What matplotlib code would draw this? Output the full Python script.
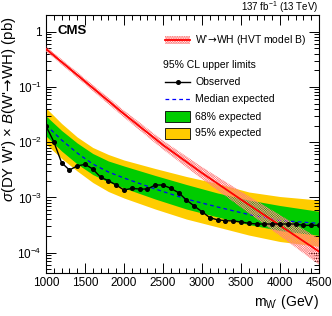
import matplotlib
matplotlib.use("Agg")
import matplotlib.pyplot as plt
from matplotlib.patches import Rectangle
from matplotlib.lines import Line2D
from matplotlib.ticker import FixedLocator, LogLocator, NullFormatter

plt.rcParams['font.family'] = ['Liberation Sans', 'DejaVu Sans']
plt.rcParams['mathtext.fontset'] = 'custom'
plt.rcParams['mathtext.rm'] = 'Liberation Sans'
plt.rcParams['mathtext.it'] = 'Liberation Sans:italic'
plt.rcParams['mathtext.bf'] = 'Liberation Sans:bold'
plt.rcParams['mathtext.sf'] = 'DejaVu Sans'
plt.rcParams['hatch.linewidth'] = 0.4

# ---- data ----
obs_mass = [1000, 1100, 1200, 1300, 1400, 1500, 1600, 1700, 1800, 1900, 2000,
            2100, 2200, 2300, 2400, 2500, 2600, 2700, 2800, 2900, 3000,
            3100, 3200, 3300, 3400, 3500, 3600, 3700, 3800, 3900, 4000,
            4100, 4200, 4300, 4400, 4500]
obs_limit = [0.0196, 0.0102, 0.00425, 0.00314, 0.00371, 0.00398, 0.00327, 0.00232,
             0.00201, 0.00168, 0.00136, 0.00146, 0.00142, 0.00142, 0.00168, 0.00168,
             0.00146, 0.00122, 0.00090, 0.00070, 0.000552, 0.000432, 0.000393,
             0.000381, 0.000375, 0.000360, 0.000341, 0.000331, 0.000331, 0.000331,
             0.000331, 0.000331, 0.000331, 0.000313, 0.000313, 0.000313]

exp_mass = [1000, 1200, 1400, 1600, 1800, 2000, 2400, 2800, 3200, 3600, 4000, 4500]
exp_median = [0.02048, 0.01096, 0.00637, 0.00403, 0.00289, 0.002249, 0.001422,
              0.000937, 0.000672, 0.000491, 0.000383, 0.00034]
exp_1s_up = [0.0298, 0.01628, 0.00967, 0.00624, 0.00457, 0.00371, 0.0025,
             0.001716, 0.001204, 0.000899, 0.000715, 0.000561]
exp_1s_dn = [0.01295, 0.00693, 0.00403, 0.0026, 0.001904, 0.001483, 0.000937,
             0.000618, 0.000443, 0.000324, 0.000252, 0.000206]
exp_2s_up = [0.04159, 0.02181, 0.01242, 0.00802, 0.00599, 0.00476, 0.00334,
             0.002394, 0.001789, 0.001256, 0.00104, 0.000899]
exp_2s_dn = [0.00928, 0.00507, 0.00301, 0.001865, 0.00128, 0.000977, 0.000618,
             0.000407, 0.000292, 0.000209, 0.0001595, 0.0001305]

th_mass = [1000, 1500, 2000, 2500, 3000, 3500, 4000, 4500]
th_xsec = [0.486, 0.1255, 0.0324, 0.0089, 0.00277, 0.000918, 0.000311, 0.0001051]
th_up = [0.540, 0.1422, 0.0375, 0.01073, 0.003557, 0.001281, 0.000482, 0.0001807]
th_dn = [0.438, 0.1108, 0.0280, 0.00738, 0.002157, 0.000658, 0.000201, 0.0000611]

x_ticks = [1000, 1500, 2000, 2500, 3000, 3500, 4000, 4500]

# ---- figure ----
W, H = 332, 316
fig = plt.figure(figsize=(W / 100, H / 100), dpi=100)
ax = fig.add_axes([46 / W, 1 - 273 / H, (319 - 46) / W, (273 - 15) / H])

GREEN = '#00cc00'
YELLOW = '#ffcc00'
RED = '#ff0000'
HATCH = '#ff8080'
HPAT = 'x' * 14
ARROW = r"$\!\mathsf{\rightarrow}\!$"

ax.fill_between(exp_mass, exp_2s_dn, exp_2s_up, color=YELLOW, lw=0, zorder=1)
ax.fill_between(exp_mass, exp_1s_dn, exp_1s_up, color=GREEN, lw=0, zorder=2)
ax.plot(exp_mass, exp_median, color='#0000ff', ls=(0, (3, 2.5)), lw=0.9, zorder=3)
ax.fill_between(th_mass, th_dn, th_up, facecolor='none', edgecolor=HATCH,
                hatch=HPAT, lw=0, zorder=4)
ax.plot(th_mass, th_xsec, color=RED, lw=1.3, zorder=5)
ax.plot(obs_mass, obs_limit, color='black', lw=1.0, marker='o', ms=2.6, zorder=6)

ax.set_yscale('log')
ax.set_xlim(1000, 4500)
ax.set_ylim(4.3e-5, 2.0)

ax.xaxis.set_major_locator(FixedLocator(x_ticks))
ax.xaxis.set_minor_locator(FixedLocator(list(range(1000, 4501, 100))))
ax.set_xticklabels([str(t) for t in x_ticks])
ax.yaxis.set_major_locator(LogLocator(base=10, numticks=20))
ax.yaxis.set_minor_locator(LogLocator(base=10, subs=range(2, 10), numticks=20))
ax.yaxis.set_minor_formatter(NullFormatter())
ax.set_yticks([1e-4, 1e-3, 1e-2, 1e-1, 1])
ax.set_yticklabels([r'10$^{-4}$', r'10$^{-3}$', r'10$^{-2}$', r'10$^{-1}$', '1'])

ax.tick_params(which='both', direction='in', top=True, right=True, labelsize=8.5,
               width=0.7, colors='black')
ax.tick_params(which='major', length=7, pad=3)
ax.tick_params(which='minor', length=3.5)
for s in ax.spines.values():
    s.set_linewidth(0.8)

ax.set_xlabel(r"m$_{\mathregular{W'}}$ (GeV)", fontsize=10, loc='right', labelpad=3)
ax.set_ylabel(r"$\sigma$(DY W') $\times$ $\mathit{B}$(W'" + ARROW + "WH) (pb)",
              fontsize=10.8, loc='top')
ax.yaxis.set_label_coords((18 - 46) / 273, (273 - 16) / 258)

fig.text(318 / W, 1 - 7 / H, r'137 fb$^{-1}$ (13 TeV)', ha='right', va='center',
         fontsize=7)
fig.text(57 / W, 1 - 31 / H, 'CMS', ha='left', va='center', fontsize=9.5,
         fontweight='bold')

# ---- legend (manual, pixel positions) ----
def fx(px):
    return px / W

def fy(py):
    return 1 - py / H

lx0, lx1, tx = 165, 190, 195
fs = 7.5
fig.patches.append(Rectangle((fx(lx0), fy(44)), fx(lx1) - fx(lx0), fy(36) - fy(44),
                             transform=fig.transFigure, facecolor='none',
                             edgecolor=HATCH, hatch=HPAT, lw=0))
fig.lines.append(Line2D([fx(lx0), fx(lx1)], [fy(40), fy(40)], color=RED, lw=1.3,
                        transform=fig.transFigure))
fig.text(fx(tx), fy(40), "W'" + ARROW + "WH (HVT model B)", va='center',
         fontsize=fs)
fig.text(fx(163), fy(65), '95% CL upper limits', va='center', fontsize=fs)
fig.lines.append(Line2D([fx(lx0), fx(lx1)], [fy(82), fy(82)], color='black', lw=1.0,
                        transform=fig.transFigure))
fig.lines.append(Line2D([fx(177.5)], [fy(82)], color='black', marker='o', ms=2.6,
                        transform=fig.transFigure))
fig.text(fx(tx), fy(82), 'Observed', va='center', fontsize=fs)
fig.lines.append(Line2D([fx(lx0), fx(lx1)], [fy(99), fy(99)], color='#0000ff', lw=0.9,
                        ls=(0, (3, 2.5)), transform=fig.transFigure))
fig.text(fx(tx), fy(99), 'Median expected', va='center', fontsize=fs)
fig.patches.append(Rectangle((fx(lx0), fy(122)), fx(lx1) - fx(lx0), fy(111) - fy(122),
                             transform=fig.transFigure, facecolor=GREEN,
                             edgecolor='black', lw=0.6))
fig.text(fx(tx), fy(116.5), '68% expected', va='center', fontsize=fs)
fig.patches.append(Rectangle((fx(lx0), fy(139)), fx(lx1) - fx(lx0), fy(128) - fy(139),
                             transform=fig.transFigure, facecolor=YELLOW,
                             edgecolor='black', lw=0.6))
fig.text(fx(tx), fy(133.5), '95% expected', va='center', fontsize=fs)

fig.savefig('out.png', dpi=100)
